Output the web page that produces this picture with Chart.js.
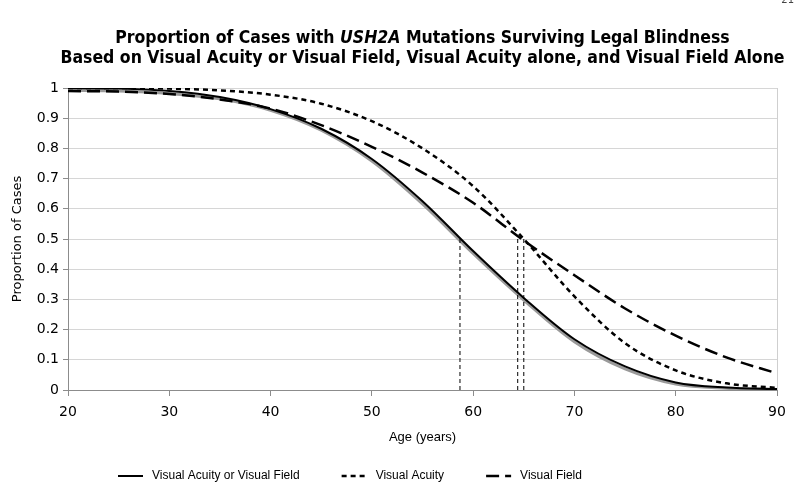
<!DOCTYPE html>
<html>
<head>
<meta charset="utf-8">
<script src="https://cdn.jsdelivr.net/npm/chart.js@4/dist/chart.umd.min.js"></script>
<style>
  html, body { margin: 0; padding: 0; background: #fff; }
  #wrap { position: relative; width: 800px; height: 495px; }
  #title {
    position: absolute; left: 40px; width: 765px; top: 27px;
    text-align: center; font: bold 17.5px "DejaVu Sans Condensed", "DejaVu Sans", sans-serif;
    line-height: 20px; color: #000;
  }
  #pageno { position: absolute; right: 6px; top: -6px; font: 10px "DejaVu Sans", sans-serif; color: #444; }
</style>
</head>
<body>
<div id="wrap">
  <canvas id="chart" width="800" height="495"></canvas>
  <div id="title">Proportion of Cases with <i>USH2A</i> Mutations Surviving Legal Blindness<br>Based on Visual Acuity or Visual Field, Visual Acuity alone, and Visual Field Alone</div>
  <div id="pageno">21</div>
</div>
<script>
// data
var ages = [20, 25, 30, 35, 40, 45, 50, 55, 60, 65, 70, 75, 80, 85, 90];
var vaOrVf = [1.0, 0.998, 0.99, 0.97, 0.93, 0.865, 0.765, 0.625, 0.46, 0.305, 0.168, 0.078, 0.025, 0.008, 0.003];
var vaOnly = [1.0, 1.0, 0.998, 0.992, 0.978, 0.948, 0.89, 0.8, 0.675, 0.5, 0.31, 0.155, 0.065, 0.022, 0.007];
var vfOnly = [0.99, 0.988, 0.98, 0.962, 0.932, 0.877, 0.805, 0.72, 0.62, 0.495, 0.38, 0.27, 0.18, 0.108, 0.055];
var grayFit = [0.992, 0.99, 0.982, 0.964, 0.926, 0.86, 0.758, 0.616, 0.452, 0.298, 0.16, 0.07, 0.02, 0.006, 0.002];
var medianAges = [58.7, 64.4, 65.0];
var medianValue = 0.5;
var xTicks = [20, 30, 40, 50, 60, 70, 80, 90];
var seriesNames = ["Visual Acuity or Visual Field", "Visual Acuity", "Visual Field"];

function pts(vals) {
  return ages.map(function(a, i){ return {x: a, y: vals[i]}; });
}

var datasets = [
  { label: seriesNames[0], data: pts(vaOrVf), borderColor: "#000", borderWidth: 2, borderDash: [], order: 1 },
  { label: seriesNames[1], data: pts(vaOnly), borderColor: "#000", borderWidth: 2.5, borderDash: [5, 4], order: 2 },
  { label: seriesNames[2], data: pts(vfOnly), borderColor: "#000", borderWidth: 2.5, borderDash: [13, 6], order: 3 },
  { label: "", data: pts(grayFit), borderColor: "#9a9a9a", borderWidth: 3, borderDash: [], order: 5, legend: false }
];
medianAges.forEach(function(a){
  datasets.push({ label: "", data: [{x: a, y: 0}, {x: a, y: medianValue}], borderColor: "#000",
    borderWidth: 1, borderDash: [4, 3], order: 4, legend: false, cubicInterpolationMode: "default", tension: 0 });
});

// legend drawn below the axis title, like the original
var bottomLegend = {
  id: "bottomLegend",
  afterDraw: function(chart) {
    var ctx = chart.ctx;
    var x = 118, y = 476;
    ctx.save();
    ctx.font = "12px 'Liberation Sans', Arial, sans-serif";
    ctx.textBaseline = "middle";
    chart.data.datasets.forEach(function(ds){
      if (ds.legend === false) return;
      ctx.strokeStyle = ds.borderColor;
      ctx.lineWidth = ds.borderWidth;
      ctx.setLineDash(ds.borderDash);
      ctx.beginPath();
      ctx.moveTo(x, y);
      ctx.lineTo(x + 25, y);
      ctx.stroke();
      ctx.setLineDash([]);
      ctx.fillStyle = "#000";
      ctx.fillText(ds.label, x + 34, y);
      x += 34 + ctx.measureText(ds.label).width + 42;
    });
    ctx.restore();
  }
};

new Chart(document.getElementById("chart"), {
  type: "line",
  data: { datasets: datasets },
  plugins: [bottomLegend],
  options: {
    responsive: false,
    animation: false,
    layout: { padding: { top: 88, right: 23, bottom: 46, left: 0 } },
    elements: {
      point: { radius: 0 },
      line: { cubicInterpolationMode: "monotone", fill: false }
    },
    plugins: { legend: { display: false }, tooltip: { enabled: false } },
    scales: {
      x: {
        type: "linear", min: 20, max: 90,
        afterFit: function(s){ s.height = 59; },
        afterBuildTicks: function(s){ s.ticks = xTicks.map(function(v){ return {value: v}; }); },
        border: { color: "#8c8c8c", width: 1 },
        grid: {
          color: function(c){ return c.tick && c.tick.value === 90 ? "#cfcfcf" : "rgba(0,0,0,0)"; },
          tickColor: "#8c8c8c", tickLength: 6
        },
        ticks: { padding: 8, color: "#000", font: { family: "DejaVu Sans", size: 14 } },
        title: { display: true, text: "Age (years)", color: "#000", padding: { top: 4, bottom: 4 },
          font: { family: "Liberation Sans", size: 13 } }
      },
      y: {
        min: 0, max: 1,
        afterFit: function(s){ s.width = 68; },
        border: { color: "#8c8c8c", width: 1 },
        grid: { color: "#d6d6d6", tickColor: "#8c8c8c", tickLength: 5 },
        ticks: { stepSize: 0.1, padding: 4, color: "#000", font: { family: "DejaVu Sans", size: 14 },
          callback: function(v){ return String(+v.toFixed(1)); } },
        title: { display: true, text: "Proportion of Cases", color: "#000", padding: { top: 10, bottom: 4 },
          font: { family: "DejaVu Sans", size: 13 } }
      }
    }
  }
});
</script>
</body>
</html>
